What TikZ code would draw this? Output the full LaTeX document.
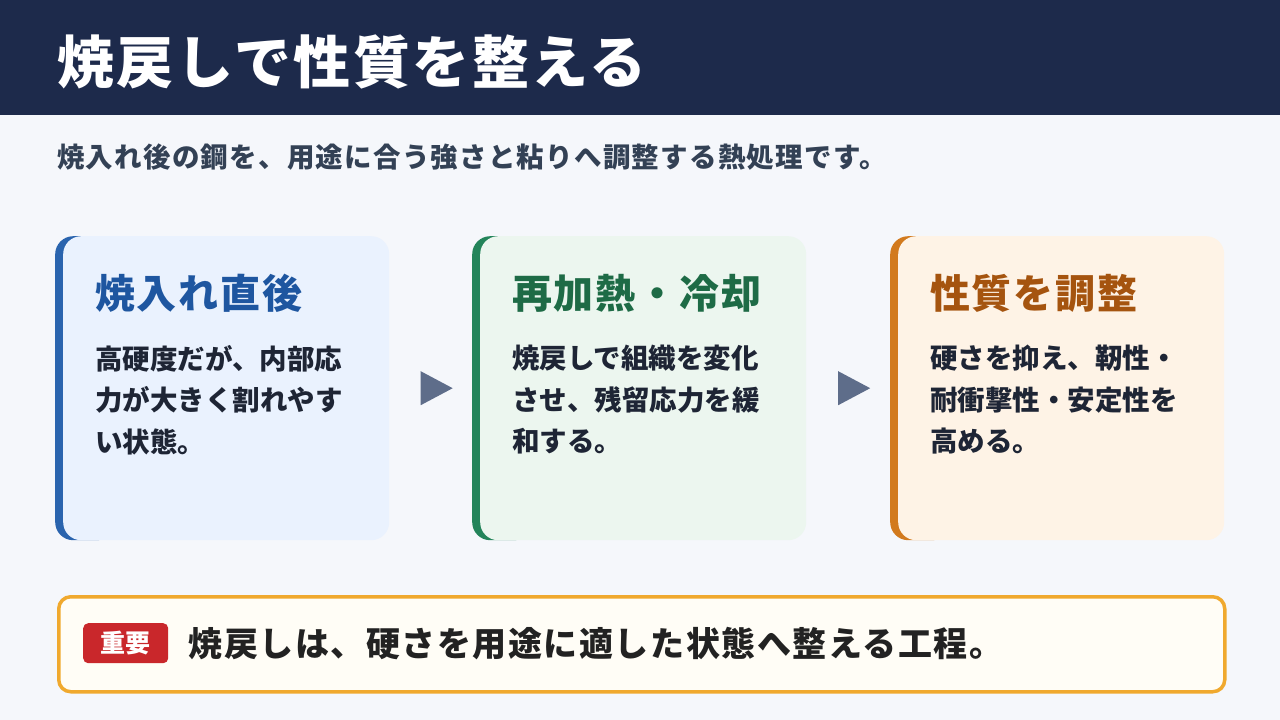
\documentclass[tikz,border=0pt]{standalone}
\usepackage{fontspec}
\setmainfont{Noto Sans CJK JP}
\usetikzlibrary{positioning, calc}

\definecolor{headbg}{HTML}{1D2A4B}
\definecolor{pagebg}{HTML}{F5F7FB}
\definecolor{subtext}{HTML}{334155}
\definecolor{bodytext}{HTML}{1E2535}
\definecolor{bluebar}{HTML}{2A64AE}
\definecolor{bluefill}{HTML}{EAF2FE}
\definecolor{bluetitle}{HTML}{1E56A0}
\definecolor{greenbar}{HTML}{23845A}
\definecolor{greenfill}{HTML}{ECF6EF}
\definecolor{greentitle}{HTML}{1E6B46}
\definecolor{orangebar}{HTML}{D27A1E}
\definecolor{orangefill}{HTML}{FEF3E6}
\definecolor{orangetitle}{HTML}{A5540F}
\definecolor{arrowgray}{HTML}{5E6D8A}
\definecolor{notebar}{HTML}{F0A92E}
\definecolor{notefill}{HTML}{FFFDF6}
\definecolor{badgered}{HTML}{C9272B}
\definecolor{notetext}{HTML}{222222}

\newcommand{\wide}{\addfontfeature{LetterSpace=4.5}}

\tikzset{
  card bar/.style={
    rectangle, rounded corners=18pt, inner sep=0pt, anchor=north west,
    minimum width=60pt, minimum height=304pt
  },
  card fill/.style={
    rectangle, rounded corners=18pt, inner sep=0pt, anchor=north west,
    minimum width=326pt, minimum height=304pt
  },
  card title/.style={
    anchor=west, inner sep=0pt, font=\fontsize{40}{48}\selectfont\bfseries\wide
  },
  card body/.style={
    anchor=north west, inner sep=0pt, align=left, text=bodytext,
    font=\fontsize{27.5}{41.5}\selectfont\bfseries
  },
  step tip/.style={
    fill=arrowgray
  },
  note box/.style={
    rectangle, rounded corners=12pt, draw=notebar, line width=3.5pt,
    fill=notefill, anchor=north west, inner sep=0pt,
    minimum width=1166pt, minimum height=95pt
  },
  note badge/.style={
    rectangle, rounded corners=5pt, fill=badgered, text=white,
    minimum width=85pt, minimum height=40pt, inner sep=0pt,
    font=\fontsize{25}{30}\selectfont\bfseries
  }
}

\begin{document}
\begin{tikzpicture}[x=1pt, y=-1pt]
  % page and header
  \fill[pagebg] (0,0) rectangle (1280,720);
  \fill[headbg] (0,0) rectangle (1280,115);
  \node (title) [anchor=west, inner sep=0pt, text=white,
    font=\fontsize{57}{64}\selectfont\bfseries\wide] at (57,62) {焼戻しで性質を整える};
  \node (sub) [anchor=west, inner sep=0pt, text=subtext,
    font=\fontsize{27.5}{32}\selectfont\bfseries\wide] at (57,157)
    {焼入れ後の鋼を、用途に合う強さと粘りへ調整する熱処理です。};

  % cards
  \node (bar1) [card bar, fill=bluebar] at (55,236) {};
  \node (card1) [card fill, fill=bluefill] at (63,236) {};
  \node (t1) [card title, text=bluetitle] at (95,293) {焼入れ直後};
  \node (b1) [card body] at (95,345) {高硬度だが、内部応\\力が大きく割れやす\\い状態。};

  \node (bar2) [card bar, fill=greenbar] at (472,236) {};
  \node (card2) [card fill, fill=greenfill] at (480,236) {};
  \node (t2) [card title, text=greentitle] at (512,293) {再加熱・冷却};
  \node (b2) [card body] at (512,345) {焼戻しで組織を変化\\させ、残留応力を緩\\和する。};

  \node (bar3) [card bar, fill=orangebar] at (890,236) {};
  \node (card3) [card fill, fill=orangefill] at (898,236) {};
  \node (t3) [card title, text=orangetitle] at (930,293) {性質を調整};
  \node (b3) [card body] at (930,345) {硬さを抑え、靭性・\\耐衝撃性・安定性を\\高める。};

  % arrows between the cards
  \coordinate (a1) at ($(card1.east)!0.5!(bar2.west)+(6,0)$);
  \coordinate (a2) at ($(card2.east)!0.5!(bar3.west)+(6,0)$);
  \fill[step tip] ($(a1)+(-16,-17)$) -- ($(a1)+(16,0)$) -- ($(a1)+(-16,17)$) -- cycle;
  \fill[step tip] ($(a2)+(-16,-17)$) -- ($(a2)+(16,0)$) -- ($(a2)+(-16,17)$) -- cycle;

  % key point
  \node (note) [note box] at (57,595) {};
  \node (badge) [note badge, anchor=north west] at (83,623) {重要};
  \node (keytext) [right=20pt of badge, inner sep=0pt, text=notetext,
    font=\fontsize{34}{40}\selectfont\bfseries\wide]
    {焼戻しは、硬さを用途に適した状態へ整える工程。};
\end{tikzpicture}
\end{document}
